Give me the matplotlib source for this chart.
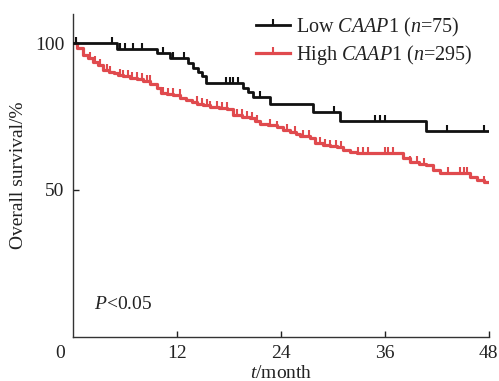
import numpy as np
import matplotlib
matplotlib.use("Agg")
import matplotlib.pyplot as plt
from matplotlib.lines import Line2D

plt.rcParams["font.family"] = ["Liberation Serif", "DejaVu Serif"]
plt.rcParams["mathtext.fontset"] = "custom"
plt.rcParams["mathtext.rm"] = "Liberation Serif"
plt.rcParams["mathtext.it"] = "Liberation Serif:italic"

# --- Low CAAP1 (n=75): step times (months) and survival (%) ---
low_t = [0, 5.1, 9.7, 11.2, 13.3, 13.9, 14.4, 14.9, 15.3, 19.6, 20.2, 20.8, 22.7, 27.7, 30.8, 40.8, 48]
low_s = [100, 98.1, 96.6, 95.0, 93.2, 91.6, 90.3, 88.8, 86.4, 84.7, 83.5, 81.8, 79.2, 76.5, 73.6, 70.1, 70.1]
low_cens = [0.4, 4.5, 5.4, 6.0, 6.9, 8.0, 10.4, 11.6, 12.8, 17.7, 18.1, 18.5, 19.1,
            21.6, 30.1, 34.9, 35.5, 36.0, 43.2, 47.5]

# --- High CAAP1 (n=295) ---
high_t = [0, 0.5, 1.2, 1.7, 2.3, 2.9, 3.5, 4.1, 4.7, 5.2, 5.8, 6.6, 7.4, 8.1, 8.9, 9.7,
          10.2, 10.9, 11.6, 12.4, 13.1, 13.7, 14.3, 15.0, 15.8, 16.8, 17.8, 18.5, 19.5,
          20.4, 21.0, 21.6, 22.5, 23.5, 24.3, 25.1, 25.7, 26.2, 27.4, 27.9, 28.9, 29.7,
          30.5, 31.2, 32.0, 32.8, 38.1, 38.9, 39.9, 40.8, 41.6, 42.4, 45.8, 46.6, 47.4, 48]
high_s = [100, 98.5, 96.0, 95.0, 93.7, 92.5, 90.9, 90.3, 89.8, 89.3, 88.9, 88.3, 87.7,
          87.0, 86.1, 84.7, 83.0, 82.7, 82.4, 81.5, 80.7, 80.0, 79.3, 78.8, 78.4, 77.9,
          77.5, 75.6, 75.0, 74.4, 73.4, 72.5, 72.0, 71.4, 70.6, 69.9, 69.1, 68.4, 67.6,
          65.9, 65.3, 64.9, 64.5, 63.6, 63.1, 62.7, 60.8, 59.6, 59.0, 58.5, 56.8, 55.9,
          54.5, 53.4, 52.8, 52.8]
high_cens = [0.3, 1.96, 2.54, 3.12, 3.89, 4.27, 5.43, 5.81, 6.39, 6.78, 7.36, 7.93, 8.51,
             8.89, 10.43, 11.0, 11.58, 12.36, 14.28, 14.86, 15.44, 15.82, 16.59, 17.17,
             17.75, 18.9, 19.48, 20.06, 20.64, 21.21, 22.75, 23.5, 24.7, 25.6, 26.6, 27.2,
             28.5, 29.1, 29.7, 30.4, 31.0, 32.9, 33.5, 34.1, 36.0, 36.4, 37.0, 38.9, 39.7,
             40.5, 43.3, 44.7, 45.1, 45.5, 47.4]

low_color = "#111111"
high_color = "#e04a4e"


def surv_at(times, surv, pts):
    idx = np.searchsorted(times, pts, side="right") - 1
    return np.asarray(surv)[idx]


fig = plt.figure(figsize=(4.99, 3.81), dpi=100)
ax = fig.add_axes([0.1463, 0.1165, 0.8331, 0.8468])

ax.step(low_t, low_s, where="post", color=low_color, lw=2.0, zorder=3)
ax.step(high_t, high_s, where="post", color=high_color, lw=2.3, zorder=2)
ax.plot(low_cens, surv_at(low_t, low_s, low_cens), ls="none", marker=2, ms=4.5,
        mew=1.5, color=low_color, zorder=3)
ax.plot(high_cens, surv_at(high_t, high_s, high_cens), ls="none", marker=2, ms=4.5,
        mew=1.5, color=high_color, zorder=2)

ax.set_xlim(0, 48)
ax.set_ylim(0, 110)
ax.set_xticks([12, 24, 36, 48])
ax.set_yticks([50, 100])
ax.tick_params(direction="in", length=4, width=1, colors="#222", labelsize=14, pad=6)
for s in ["top", "right"]:
    ax.spines[s].set_visible(False)
for s in ["left", "bottom"]:
    ax.spines[s].set_color("#333")
    ax.spines[s].set_linewidth(1.0)

ax.annotate("0", xy=(0, 0), xycoords="axes fraction", xytext=(-9.5, -6),
            textcoords="offset points", ha="center", va="top", fontsize=14, color="#222")

ax.set_xlabel(r"$\mathit{t}$/month", fontsize=14, color="#222", labelpad=2)
ax.set_ylabel("Overall survival/%", fontsize=14, color="#222", labelpad=6)

ax.text(2.4, 11.0, r"$\mathit{P}$<0.05", fontsize=14, color="#222", va="center")

handles = [
    Line2D([], [], color=low_color, lw=2.0, marker=2, ms=4.5, mew=1.5),
    Line2D([], [], color=high_color, lw=2.3, marker=2, ms=4.5, mew=1.5),
]
labels = [r"Low $\mathit{CAAP}$1 ($\mathit{n}$=75)", r"High $\mathit{CAAP}$1 ($\mathit{n}$=295)"]
fig.legend(handles, labels, loc="upper left", bbox_to_anchor=(0.513, 0.958),
           frameon=False, fontsize=14.5, numpoints=1, handlelength=1.7,
           handletextpad=0.3, labelspacing=0.2, borderpad=0, borderaxespad=0,
           labelcolor="#222")

fig.savefig("out.png", dpi=100)
